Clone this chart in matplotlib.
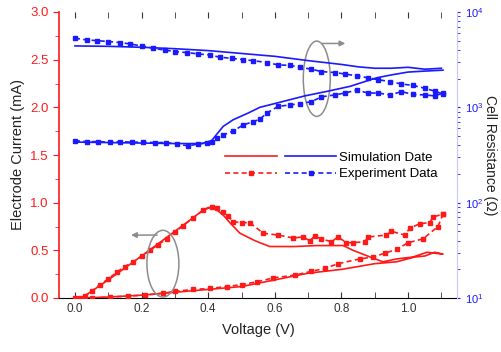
import matplotlib
matplotlib.use("Agg")
import matplotlib.pyplot as plt
from matplotlib.patches import Ellipse
from matplotlib.legend_handler import HandlerTuple
from matplotlib.ticker import MultipleLocator, LogLocator, NullFormatter

plt.rcParams['font.family'] = ['Liberation Sans', 'DejaVu Sans']

# ---- Current (mA), simulation: forward (low) branch then return (high) branch
sim_i_v = [0.02, 0.1, 0.2, 0.3, 0.4, 0.5, 0.6, 0.7, 0.8, 0.9, 0.966, 1.02, 1.05, 1.08, 1.105,
           1.057, 1.015, 0.966, 0.925, 0.886, 0.835, 0.805, 0.726, 0.66, 0.585, 0.555, 0.535,
           0.495, 0.465, 0.445, 0.42, 0.40, 0.38, 0.35, 0.3, 0.2, 0.1, 0.02]
sim_i = [0.0, 0.01, 0.03, 0.06, 0.09, 0.12, 0.19, 0.26, 0.30, 0.36, 0.38, 0.43, 0.44, 0.48, 0.46,
         0.48, 0.43, 0.41, 0.38, 0.43, 0.50, 0.55, 0.55, 0.54, 0.54, 0.58, 0.61,
         0.68, 0.79, 0.87, 0.94, 0.95, 0.91, 0.83, 0.70, 0.44, 0.19, 0.0]

# ---- Current (mA), experiment
exp_i_v = [0.0, 0.05, 0.105, 0.16, 0.21, 0.265, 0.30, 0.355, 0.405, 0.455, 0.50, 0.546, 0.595,
           0.66, 0.71, 0.75, 0.79, 0.855, 0.895, 0.93, 0.966, 1.0, 1.045, 1.09, 1.105,
           1.105, 1.075, 1.065, 1.035, 1.005, 0.99, 0.95, 0.935, 0.88, 0.87, 0.835, 0.815, 0.79,
           0.77, 0.74, 0.72, 0.705, 0.685, 0.655, 0.61, 0.565, 0.525, 0.5, 0.475, 0.46, 0.445,
           0.425, 0.41, 0.385, 0.355, 0.325, 0.3, 0.275, 0.25, 0.225, 0.2, 0.175, 0.15, 0.125,
           0.1, 0.075, 0.05, 0.03, 0.015]
exp_i = [0.0, 0.0, 0.01, 0.02, 0.03, 0.05, 0.07, 0.09, 0.10, 0.12, 0.14, 0.17, 0.21,
         0.24, 0.28, 0.31, 0.36, 0.41, 0.43, 0.47, 0.51, 0.58, 0.62, 0.75, 0.88,
         0.88, 0.85, 0.79, 0.78, 0.73, 0.66, 0.70, 0.66, 0.64, 0.59, 0.58, 0.58, 0.64,
         0.59, 0.62, 0.65, 0.60, 0.64, 0.63, 0.66, 0.68, 0.79, 0.79, 0.80, 0.86, 0.90,
         0.94, 0.955, 0.92, 0.84, 0.76, 0.69, 0.62, 0.56, 0.50, 0.44, 0.38, 0.33, 0.27,
         0.20, 0.14, 0.07, 0.02, 0.0]

# ---- Cell resistance (Ohm), simulation
sim_r_hi_v = [0.0, 0.1, 0.2, 0.3, 0.4, 0.5, 0.6, 0.7, 0.8, 0.85, 0.9, 0.95, 1.0, 1.05, 1.1]
sim_r_hi = [4406, 4365, 4266, 4121, 3936, 3673, 3428, 3090, 2818, 2661, 2570, 2570, 2630, 2512, 2570]
sim_r_lo_v = [0.0, 0.1, 0.2, 0.3, 0.38, 0.41, 0.445, 0.475, 0.52, 0.555, 0.6, 0.69, 0.76,
              0.826, 0.87, 0.906, 0.95, 1.0, 1.05, 1.105]
sim_r_lo = [432, 427, 422, 417, 417, 447, 631, 741, 871, 1000, 1096, 1318, 1479,
            1660, 1862, 2042, 2188, 2344, 2399, 2455]

# ---- Cell resistance (Ohm), experiment
exp_r_hi_v = [0.0, 0.035, 0.065, 0.10, 0.135, 0.165, 0.20, 0.235, 0.27, 0.30, 0.335, 0.37,
              0.405, 0.435, 0.47, 0.505, 0.535, 0.576, 0.61, 0.646, 0.676, 0.71, 0.74, 0.78,
              0.81, 0.846, 0.88, 0.91, 0.946, 0.98, 1.015, 1.05, 1.08, 1.105]
exp_r_hi = [5309, 5093, 5012, 4898, 4786, 4624, 4406, 4169, 3981, 3846, 3758, 3631,
            3548, 3350, 3273, 3162, 3090, 2951, 2786, 2754, 2630, 2512, 2371, 2317,
            2239, 2138, 2042, 1950, 1862, 1758, 1698, 1585, 1479, 1380]
exp_r_lo_v = [0.0, 0.035, 0.07, 0.105, 0.135, 0.17, 0.205, 0.24, 0.273, 0.307, 0.34, 0.37,
              0.395, 0.41, 0.425, 0.445, 0.474, 0.505, 0.535, 0.555, 0.576, 0.61, 0.646,
              0.676, 0.71, 0.74, 0.78, 0.81, 0.846, 0.88, 0.91, 0.946, 0.98, 1.015, 1.05,
              1.08, 1.105]
exp_r_lo = [447, 437, 437, 431, 437, 431, 431, 427, 427, 413, 394, 413,
            422, 437, 474, 513, 562, 653, 708, 750, 871, 1023, 1059,
            1096, 1148, 1288, 1349, 1413, 1514, 1413, 1413, 1349, 1462, 1365, 1349,
            1318, 1413]

xticks = [0.0, 0.2, 0.4, 0.6, 0.8, 1.0]
yticks = [0.0, 0.5, 1.0, 1.5, 2.0, 2.5, 3.0]

RED = '#ff1a1a'
BLUE = '#1a1aff'

fig = plt.figure(figsize=(5.01, 3.52), dpi=100)
ax = fig.add_axes([59/501, 1-298/352, (457-59)/501, (298-12)/352])
ax2 = ax.twinx()

# red current curves
l_rs, = ax.plot(sim_i_v, sim_i, color=RED, lw=1.2, zorder=3)
l_re, = ax.plot(exp_i_v, exp_i, color=RED, lw=1.2, ls=(0, (3, 2)), marker='s', ms=3, zorder=3)

# blue resistance curves
l_bs, = ax2.plot(sim_r_hi_v, sim_r_hi, color=BLUE, lw=1.2)
ax2.plot(sim_r_lo_v, sim_r_lo, color=BLUE, lw=1.2)
l_be, = ax2.plot(exp_r_hi_v, exp_r_hi, color=BLUE, lw=1.2, ls=(0, (3, 2)), marker='s', ms=3)
ax2.plot(exp_r_lo_v, exp_r_lo, color=BLUE, lw=1.2, ls=(0, (3, 2)), marker='s', ms=3)

ax.set_xlim(-0.048, 1.147)
ax.set_ylim(0, 3.0)
ax2.set_yscale('log')
ax2.set_ylim(10, 1e4)

# spines
for s in ['top', 'right']:
    ax.spines[s].set_visible(False)
ax.spines['left'].set_color(RED)
ax.spines['left'].set_linewidth(1.2)
ax.spines['bottom'].set_color('black')
for s in ['top', 'left', 'bottom']:
    ax2.spines[s].set_visible(False)
ax2.spines['right'].set_color('#c8c8ff')

ax.set_xticks(xticks)
ax.set_xticklabels([f"{t:.1f}" for t in xticks])
ax.xaxis.set_minor_locator(MultipleLocator(0.1))
ax.tick_params(axis='x', which='both', direction='in', top=True, colors='#333333',
               labelsize=8.5, length=4)
ax.set_yticks(yticks)
ax.set_yticklabels([f"{t:.1f}" for t in yticks])
ax.yaxis.set_minor_locator(MultipleLocator(0.25))
ax.tick_params(axis='y', which='both', direction='out', colors=RED, labelsize=9.5, length=4)
ax.tick_params(axis='y', which='minor', length=3)

ax2.yaxis.set_major_locator(LogLocator(base=10, numticks=10))
ax2.yaxis.set_minor_locator(LogLocator(base=10, subs=range(2, 10), numticks=10))
ax2.yaxis.set_minor_formatter(NullFormatter())
ax2.tick_params(axis='y', which='both', direction='out', colors=BLUE, labelsize=8, length=2)

ax.set_xlabel('Voltage (V)', fontsize=10.5, color='#222222', labelpad=6)
ax.set_ylabel('Electrode Current (mA)', fontsize=10.5, color='#222222', labelpad=4)
ax2.set_ylabel('Cell Resistance (Ω)', fontsize=10, color='#222222', rotation=270, labelpad=10)

# grey ellipses with arrows
ax.add_patch(Ellipse((0.264, 0.36), 0.096, 0.70, fill=False, ec='#8c8c8c', lw=1.1, zorder=4))
ax.add_patch(Ellipse((0.726, 2.30), 0.081, 0.79, fill=False, ec='#8c8c8c', lw=1.1, zorder=4))
ax.annotate('', xy=(0.16, 0.66), xytext=(0.255, 0.66),
            arrowprops=dict(arrowstyle='-|>', color='#8c8c8c', lw=1.1, mutation_scale=8), zorder=4)
ax.annotate('', xy=(0.82, 2.67), xytext=(0.735, 2.67),
            arrowprops=dict(arrowstyle='-|>', color='#8c8c8c', lw=1.1, mutation_scale=8), zorder=4)

leg = ax2.legend([(l_rs, l_bs), (l_re, l_be)], ['Simulation Date', 'Experiment Data'],
                 handler_map={tuple: HandlerTuple(ndivide=None, pad=0.6)},
                 loc='upper left', bbox_to_anchor=(0.395, 0.545), frameon=False,
                 fontsize=9.5, handlelength=8.4, handletextpad=0.2, labelspacing=0.35,
                 borderpad=0.2)

fig.savefig('out.png', dpi=100)
